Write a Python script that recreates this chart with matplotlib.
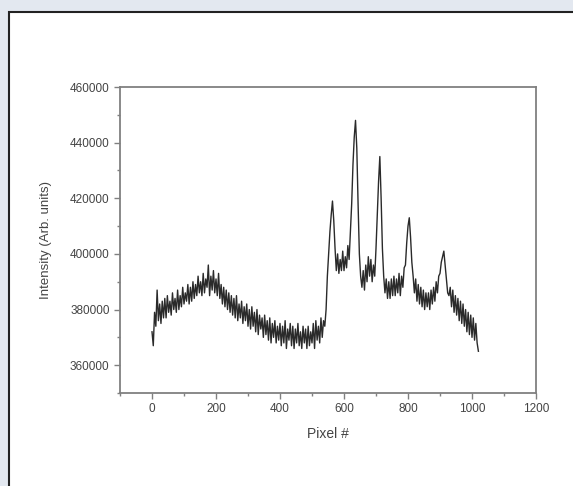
import numpy as np
import matplotlib.pyplot as plt
from matplotlib.patches import Rectangle

plt.rcParams['font.family'] = ['Liberation Sans', 'DejaVu Sans']

# pixel index (every 4th pixel) and intensity in thousands
pixel = np.arange(0, 1024, 4)
intensity_k = [
    372, 367, 379, 374, 387, 376, 382, 375, 383, 377,
    384, 377, 385, 379, 383, 378, 386, 380, 384, 379,
    387, 380, 385, 381, 388, 382, 386, 383, 389, 382,
    388, 383, 390, 384, 389, 385, 392, 386, 390, 385,
    393, 386, 391, 388, 396, 385, 392, 387, 394, 386,
    391, 385, 393, 384, 389, 382, 388, 381, 387, 380,
    386, 379, 385, 378, 384, 377, 385, 376, 382, 377,
    383, 375, 381, 376, 382, 374, 380, 373, 381, 374,
    379, 372, 380, 371, 378, 373, 377, 370, 378, 371,
    376, 369, 377, 368, 375, 370, 376, 368, 374, 369,
    375, 367, 374, 368, 376, 366, 373, 369, 375, 367,
    374, 366, 373, 368, 375, 367, 372, 366, 374, 368,
    373, 366, 374, 367, 372, 368, 375, 366, 376, 369,
    374, 368, 377, 370, 376, 374, 380, 392, 400, 408,
    414, 419, 412, 402, 394, 400, 393, 398, 394, 401,
    394, 399, 395, 403, 398, 408, 418, 432, 442, 448,
    438, 418, 400, 392, 388, 394, 387, 396, 390, 399,
    392, 398, 390, 396, 392, 402, 414, 426, 435, 420,
    402, 392, 386, 391, 384, 390, 384, 391, 385, 392,
    385, 391, 386, 393, 385, 392, 388, 395, 396, 404,
    410, 413, 406, 397, 392, 386, 391, 383, 389, 382,
    388, 381, 387, 380, 386, 381, 386, 380, 387, 382,
    388, 383, 390, 386, 392, 393, 397, 399, 401, 396,
    391, 386, 385, 388, 381, 387, 379, 385, 378, 384,
    376, 383, 375, 382, 374, 380, 372, 379, 371, 378,
    370, 377, 369, 375, 368, 365,
]
intensity = np.array(intensity_k) * 1000

fig = plt.figure(figsize=(5.73, 4.86), dpi=100, facecolor='#e3e8f0')
fig.patches.append(Rectangle((9 / 573, -0.1), 1.2, 1 - 12 / 486 + 0.1,
                             transform=fig.transFigure, facecolor='white',
                             edgecolor='#222222', linewidth=1.5, zorder=-10))

ax = fig.add_axes([120 / 573, 1 - 393 / 486, 416 / 573, 306 / 486])
ax.set_zorder(5)
ax.patch.set_alpha(0)
ax.plot(pixel, intensity, color='#2a2a2a', lw=1.0)

ax.set_xlim(-100, 1200)
ax.set_ylim(350000, 460000)
ax.set_xticks(np.arange(0, 1201, 200))
ax.set_xticks(np.arange(-100, 1201, 100), minor=True)
ax.set_yticks(np.arange(360000, 460001, 20000))
ax.set_yticks(np.arange(350000, 460001, 10000), minor=True)

for s in ax.spines.values():
    s.set_color('#808080')
    s.set_linewidth(1.3)
ax.tick_params(which='major', length=4, width=1, color='#808080',
               labelsize=8.5, labelcolor='#444444')
ax.tick_params(which='minor', length=2, width=1, color='#808080')

ax.set_xlabel('Pixel #', fontsize=10, color='#444444', labelpad=8)
ax.set_ylabel('Intensity (Arb. units)', fontsize=9.5, color='#444444', labelpad=13)

fig.savefig('out.png', dpi=100, facecolor=fig.get_facecolor())
